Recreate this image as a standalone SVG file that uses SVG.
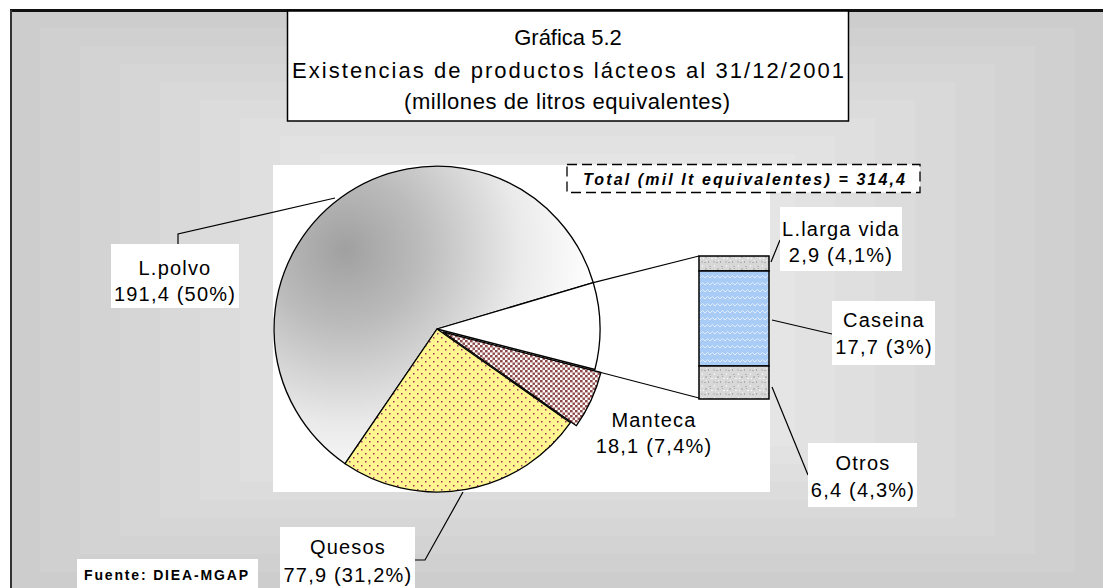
<svg xmlns="http://www.w3.org/2000/svg" width="1103" height="588" viewBox="0 0 1103 588">
<style>
.lbl{font-family:"Liberation Sans",Arial,sans-serif;font-size:20px;letter-spacing:1.2px;fill:#000;text-anchor:middle}
.ttl{font-family:"Liberation Sans",Arial,sans-serif;font-size:22px;fill:#000;text-anchor:middle}
.box{fill:#fff;stroke:none}
.con{fill:none;stroke:#000;stroke-width:1.2}
.edge{stroke:#000;stroke-width:1.3;stroke-linejoin:round}
</style>
<defs>
<radialGradient id="gPolvo" gradientUnits="userSpaceOnUse" cx="345" cy="250" r="250">
<stop offset="0" stop-color="#a0a0a0"/>
<stop offset="0.3" stop-color="#bbbbbb"/>
<stop offset="0.7" stop-color="#eaeaea"/>
<stop offset="1" stop-color="#ffffff"/>
</radialGradient>
<pattern id="pQuesos" patternUnits="userSpaceOnUse" width="8" height="8">
<rect width="8" height="8" fill="#fff68f"/>
<rect x="1" y="1" width="1.5" height="1.5" fill="#993366"/>
<rect x="5" y="5" width="1.5" height="1.5" fill="#993366"/>
</pattern>
<pattern id="pManteca" patternUnits="userSpaceOnUse" width="5" height="5">
<rect width="5" height="5" fill="#ffffff"/>
<rect x="0" y="0" width="2.6" height="2.4" fill="#8e4a4a"/>
<rect x="2.5" y="2.5" width="2.6" height="2.4" fill="#8e4a4a"/>
</pattern>
<pattern id="pGranite" patternUnits="userSpaceOnUse" width="12" height="12">
<rect width="12" height="12" fill="#d8d8d8"/>
<rect x="1" y="2" width="2" height="1" fill="#b4b4b4"/>
<rect x="6" y="1" width="1" height="2" fill="#f2f2f2"/>
<rect x="9" y="4" width="2" height="2" fill="#bcbcbc"/>
<rect x="3" y="6" width="2" height="1" fill="#f4f4f4"/>
<rect x="0" y="9" width="1" height="2" fill="#ababab"/>
<rect x="5" y="9" width="2" height="2" fill="#c4c4c4"/>
<rect x="10" y="8" width="1" height="1" fill="#f0f0f0"/>
<rect x="8" y="10" width="2" height="1" fill="#b0b0b0"/>
<rect x="2" y="4" width="1" height="1" fill="#a8a8a8"/>
<rect x="7" y="6" width="1" height="1" fill="#ffffff"/>
</pattern>
<pattern id="pCaseina" patternUnits="userSpaceOnUse" width="10" height="7">
<rect width="10" height="7" fill="#a8ccf6"/>
<path d="M0 5 L2.5 2.5 L5 5 L7.5 2.5 L10 5" fill="none" stroke="#e8f0fa" stroke-width="0.9"/>
</pattern>
</defs>

<g id="background">
<rect x="0" y="0" width="1103" height="588" fill="#ffffff"/>
<rect x="12" y="12" width="1091" height="576" fill="#cdcdcd"/>
<rect x="40" y="28" width="1035" height="544" fill="#d0d0d0"/>
<rect x="80" y="46" width="955" height="508" fill="#d3d3d3"/>
<rect x="120" y="64" width="875" height="472" fill="#d6d6d6"/>
<rect x="160" y="82" width="795" height="436" fill="#d9d9d9"/>
<rect x="200" y="100" width="715" height="400" fill="#dcdcdc"/>
<rect x="240" y="118" width="635" height="364" fill="#dfdfdf"/>
<rect x="280" y="136" width="555" height="328" fill="#e2e2e2"/>
<rect x="320" y="154" width="475" height="292" fill="#e5e5e5"/>
<line x1="10" y1="10.5" x2="1103" y2="10.5" stroke="#111" stroke-width="3"/>
<line x1="11" y1="10" x2="11" y2="588" stroke="#333" stroke-width="2"/>
</g>

<g id="title">
<rect x="287.5" y="11" width="561" height="110" fill="#fff" stroke="#000" stroke-width="1.5"/>
<text class="ttl" x="568" y="45">Gráfica 5.2</text>
<text class="ttl" x="568" y="78" textLength="552" lengthAdjust="spacing">Existencias de productos lácteos al 31/12/2001</text>
<text class="ttl" x="567" y="109" textLength="326" lengthAdjust="spacing">(millones de litros equivalentes)</text>
</g>

<g id="plot-area">
<rect x="273" y="165" width="497" height="327" fill="#ffffff"/>
</g>

<g id="total">
<rect x="567" y="164.5" width="353" height="28" fill="#fff" stroke="#000" stroke-width="1.3" stroke-dasharray="10 5"/>
<text x="744" y="185" font-family="Liberation Sans,Arial,sans-serif" font-size="16" font-weight="bold" font-style="italic" text-anchor="middle" textLength="322" lengthAdjust="spacing">Total (mil lt equivalentes) = 314,4</text>
</g>

<g id="pie">
<path id="slice-polvo" class="edge" fill="url(#gPolvo)" d="M437 329 L345.1 463.7 A163 163 0 1 1 593.3 282.7 Z"/>
<path id="slice-quesos" class="edge" fill="url(#pQuesos)" d="M437 329 L570.4 422.7 A163 163 0 0 1 345.1 463.7 Z"/>
<path id="slice-otros" class="edge" fill="#ffffff" d="M437 329 L593.3 282.7 A163 163 0 0 1 594.9 369.5 Z"/>
<path id="slice-manteca" class="edge" fill="url(#pManteca)" d="M443 332 L600.9 372.5 A163 163 0 0 1 576.4 425.7 Z"/>
</g>

<g id="bar">
<rect id="bar-larga" x="699" y="256" width="70" height="15" fill="url(#pGranite)" stroke="#000" stroke-width="1.5"/>
<rect id="bar-caseina" x="699" y="271" width="70" height="95" fill="url(#pCaseina)" stroke="#000" stroke-width="1.5"/>
<rect id="bar-otros" x="699" y="366" width="70" height="33" fill="url(#pGranite)" stroke="#000" stroke-width="1.5"/>
</g>

<g id="connectors">
<line class="con" x1="593.3" y1="282.7" x2="699" y2="256"/>
<line class="con" x1="600.9" y1="372.5" x2="699" y2="398"/>
<polyline class="con" points="178,244 178,234 335,198"/>
<polyline class="con" points="415,560 425,560 463,492"/>
<line class="con" x1="771" y1="262" x2="780" y2="240"/>
<line class="con" x1="772" y1="320" x2="832" y2="334"/>
<line class="con" x1="772" y1="387" x2="808" y2="475"/>
</g>

<g id="label-polvo">
<rect class="box" x="111" y="244" width="128" height="64"/>
<text class="lbl" x="175" y="275">L.polvo</text>
<text class="lbl" x="175" y="301">191,4 (50%)</text>
</g>

<g id="label-larga">
<rect class="box" x="780" y="207" width="122" height="64"/>
<text class="lbl" x="841" y="236">L.larga vida</text>
<text class="lbl" x="841" y="262">2,9 (4,1%)</text>
</g>

<g id="label-caseina">
<rect class="box" x="832" y="301" width="103" height="64"/>
<text class="lbl" x="884" y="327">Caseina</text>
<text class="lbl" x="884" y="354">17,7 (3%)</text>
</g>

<g id="label-manteca">
<text class="lbl" x="654" y="427">Manteca</text>
<text class="lbl" x="654" y="453">18,1 (7,4%)</text>
</g>

<g id="label-otros">
<rect class="box" x="808" y="443" width="109" height="64"/>
<text class="lbl" x="863" y="470">Otros</text>
<text class="lbl" x="863" y="497">6,4 (4,3%)</text>
</g>

<g id="label-quesos">
<rect class="box" x="280" y="527" width="135" height="61"/>
<text class="lbl" x="348" y="554">Quesos</text>
<text class="lbl" x="348" y="582">77,9 (31,2%)</text>
</g>

<g id="source">
<rect class="box" x="77" y="559" width="181" height="29"/>
<text x="84" y="580" font-family="Liberation Sans,Arial,sans-serif" font-size="14" font-weight="bold" textLength="164" lengthAdjust="spacing">Fuente: DIEA-MGAP</text>
</g>
</svg>
